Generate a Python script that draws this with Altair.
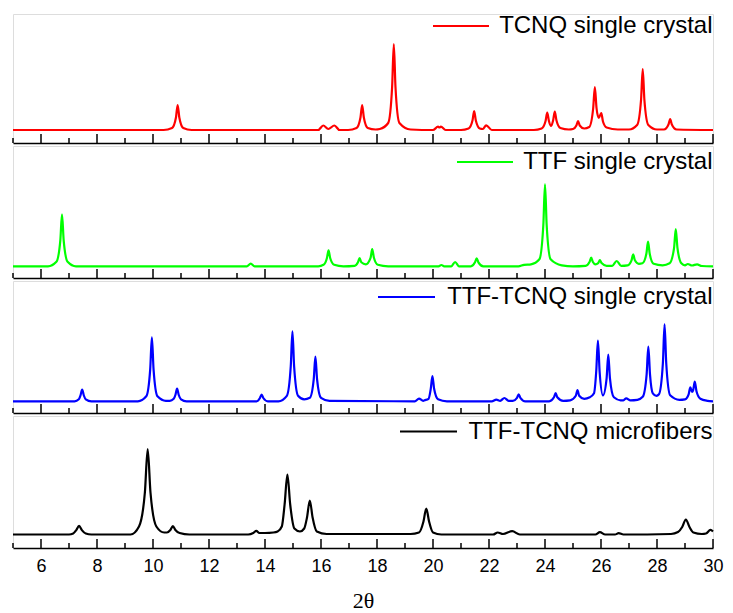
import altair as alt
import pandas as pd

# ---- data (2θ in degrees, intensity in arbitrary units) ----
series_names = ["TCNQ single crystal", "TTF single crystal",
                "TTF-TCNQ single crystal", "TTF-TCNQ microfibers"]
series_colors = ["#FF0000", "#00FF00", "#0000FF", "#000000"]

red_x = [5, 10.38, 10.68, 10.82, 10.88, 10.94, 11.08, 11.38,
         15.9, 16.08, 16.26, 16.48, 16.66,
         16.97, 17.27, 17.41, 17.47, 17.53, 17.67, 17.95,
         18.1, 18.4, 18.54, 18.6, 18.66, 18.8, 19.2,
         20.0, 20.18, 20.23, 20.28, 20.45,
         21.0, 21.27, 21.41, 21.47, 21.53, 21.67, 21.78, 21.9, 22.1,
         23.6, 23.88, 24.02, 24.08, 24.14, 24.22, 24.29, 24.35, 24.41, 24.55, 24.85,
         25.0, 25.12, 25.18, 25.24, 25.4,
         25.58, 25.72, 25.78, 25.84, 25.92, 26.01, 26.07, 26.2, 26.6,
         27.0, 27.29, 27.43, 27.49, 27.55, 27.69, 28.0,
         28.25, 28.41, 28.47, 28.53, 28.7, 30]
red_y = [0, 0, 2, 12.5, 25, 12.5, 2, 0,
         0, 4.5, 1, 4.5, 0,
         0, 2, 12.5, 25, 12.5, 2, 0.5,
         1, 7, 43, 86, 43, 7, 0.5,
         0, 3.3, 2.5, 3.3, 0,
         0, 1.5, 9.5, 19, 9.5, 1.5, 1, 4.7, 0,
         0, 1.5, 9, 17.5, 9, 4, 9.5, 18.5, 9.5, 2, 0.5,
         1, 4.5, 9, 4.5, 1.5,
         3, 21.5, 43, 22, 12, 17, 8.5, 2.5, 0.5,
         0.5, 5, 30, 61, 30, 5, 0.5,
         0.5, 5.5, 11, 5.5, 0.5, 0]

green_x = [5, 6.25, 6.55, 6.69, 6.75, 6.81, 6.95, 7.25,
           13.35, 13.49, 13.63,
           15.9, 16.09, 16.21, 16.27, 16.33, 16.47, 16.8,
           17.2, 17.32, 17.38, 17.44, 17.6, 17.77, 17.83, 17.89, 18.03, 18.4,
           20.2, 20.3, 20.4,
           20.65, 20.79, 20.93,
           21.35, 21.5, 21.56, 21.62, 21.8,
           23.05, 23.25, 23.5, 23.8, 23.94, 24.0, 24.06, 24.2, 24.6, 25.0,
           25.45, 25.59, 25.65, 25.71, 25.8, 25.9, 25.96, 26.02, 26.2,
           26.4, 26.56, 26.72,
           26.95, 27.09, 27.15, 27.21, 27.35, 27.48, 27.62, 27.68, 27.74, 27.88, 28.2,
           28.45, 28.61, 28.67, 28.73, 28.87, 29.0, 29.1, 29.25, 29.43, 29.6, 30]
green_y = [0, 0, 4.5, 26, 52, 26, 4.5, 0,
           0, 2.7, 0,
           0, 1.5, 8, 16, 8, 1.5, 0,
           0.5, 4, 8.3, 4, 2, 8.5, 17.3, 8.5, 1.5, 0,
           0, 1.3, 0,
           0, 4.3, 0,
           0, 4, 8, 4, 0,
           0, 1.5, 2, 7, 41, 82, 41, 7, 1, 0,
           0.5, 4.3, 8.7, 4.3, 2, 3.2, 6.3, 3.2, 0.5,
           0.5, 5.3, 0.5,
           1, 6, 12, 6, 2.5, 3, 12.5, 24.7, 12.5, 2.5, 1,
           3, 18.5, 37.3, 18.5, 3, 1, 2.3, 0.8, 2, 0.3, 0]

blue_x = [5, 7.2, 7.35, 7.41, 7.47, 7.53, 7.6, 7.8,
          9.46, 9.76, 9.9, 9.96, 10.02, 10.16, 10.46,
          10.6, 10.74, 10.8, 10.86, 10.92, 11.0, 11.2,
          13.7, 13.82, 13.88, 13.94, 14.1,
          14.48, 14.78, 14.92, 14.98, 15.04, 15.18, 15.4,
          15.6, 15.74, 15.8, 15.86, 16.0, 16.3,
          19.35, 19.5, 19.65,
          19.7, 19.84, 19.92, 19.98, 20.04, 20.18, 20.5,
          22.1, 22.26, 22.4, 22.55, 22.7,
          22.85, 23.0, 23.06, 23.12, 23.3,
          24.15, 24.32, 24.38, 24.44, 24.65,
          24.9, 25.1, 25.16, 25.22, 25.4,
          25.6, 25.75, 25.83, 25.89, 25.95, 26.07, 26.2, 26.26, 26.32, 26.46, 26.7,
          26.8, 26.9, 27.05,
          27.3, 27.49, 27.63, 27.69, 27.75, 27.85, 27.98,
          28.07, 28.21, 28.27, 28.33, 28.47, 28.8,
          29.0, 29.13, 29.19, 29.25, 29.29, 29.35, 29.41, 29.55, 29.8, 30]
blue_y = [0, 0, 2, 5.8, 11.7, 5.8, 2, 0,
          0, 5, 32, 64, 32, 5, 0.5,
          0.5, 2.5, 6.3, 12.7, 6.3, 2, 0,
          0, 3.3, 6.7, 3.3, 0,
          0, 5.5, 35, 70, 35, 5.5, 2,
          3.5, 22, 44.7, 22, 3.5, 0.5,
          0, 2.7, 0.5,
          1, 2.5, 12.5, 25.3, 12.5, 2, 0,
          0, 1.7, 0.5, 3.3, 0.5,
          0.5, 3.5, 7, 3.5, 0,
          0, 4, 8.3, 4, 0.5,
          1, 5.6, 11.3, 5.6, 2.5,
          4, 8, 30, 60.7, 30, 6, 23, 46.7, 23, 4, 1,
          1, 3, 1,
          1.5, 4.5, 27, 54.7, 27, 8, 5.5,
          7, 38, 77, 38, 6, 1.5,
          2, 7, 14, 9.5, 11, 19.7, 10, 2.5, 0.5, 0]

black_x = [5, 7.0, 7.15, 7.26, 7.36, 7.46, 7.6, 7.8,
           9.2, 9.5, 9.71, 9.81, 9.91, 10.12, 10.4,
           10.5, 10.62, 10.71, 10.8, 10.95, 11.3,
           13.4, 13.58, 13.69, 13.8, 14.0,
           14.3, 14.45, 14.6, 14.7, 14.8, 14.9, 15.05,
           15.25, 15.4, 15.5, 15.6, 15.7, 15.85, 16.2,
           19.2, 19.5, 19.66, 19.76, 19.86, 20.0, 20.3,
           22.15, 22.31, 22.5, 22.83, 23.1,
           25.8, 25.96, 26.15, 26.5, 26.63, 26.8,
           28.5, 28.75, 28.9, 29.03, 29.16, 29.3, 29.6,
           29.75, 29.91, 30]
black_y = [0, 0, 1, 4.4, 8.7, 4.4, 1, 0,
           0, 8, 42, 85.3, 42, 8, 2,
           2, 4.5, 8.3, 4.5, 1.5, 0,
           0, 1.5, 3.7, 1.5, 1.5,
           2, 3, 8, 30, 60, 30, 6,
           3, 6, 17, 34, 17, 3, 0.5,
           0.5, 2, 13, 26, 13, 2, 0,
           0, 2, 0.5, 3.3, 0,
           0, 2.3, 0, 0, 1.3, 0,
           0.5, 2.5, 7.5, 15, 7.5, 2, 0.5,
           1, 4.7, 3]

major_ticks = [6, 8, 10, 12, 14, 16, 18, 20, 22, 24, 26, 28, 30]
minor_ticks = [5, 7, 9, 11, 13, 15, 17, 19, 21, 23, 25, 27, 29]
x_title = "2θ"

# ---- layout (pixels) ----
W = 700
panel_heights = [129, 132, 132, 132]
baseline_offsets = [13, 11.7, 11.7, 13.5]
legend_ys = [12, 16, 16, 15.5]
legend_lines = [(420, 476), (444, 500), (365, 422), (387, 444)]
series_xy = [(red_x, red_y), (green_x, green_y), (blue_x, blue_y), (black_x, black_y)]


def make_panel(i, bottom):
    H = panel_heights[i]
    off = baseline_offsets[i]
    xs, ys = series_xy[i]
    xscale = alt.Scale(domain=[5, 30], nice=False, zero=False)
    if bottom:
        axis = alt.Axis(values=major_ticks, labelFontSize=18, labelFont="Liberation Sans",
                        labelColor="black", labelPadding=9, labelFlush=False,
                        labelOverlap=False, ticks=False, tickSize=0, grid=False,
                        domain=True, domainColor="black", domainWidth=1.7,
                        title=x_title, titleFont="Liberation Serif", titleFontSize=22,
                        titleFontWeight="normal", titleColor="black", titlePadding=15)
    else:
        axis = alt.Axis(labels=False, ticks=False, tickSize=0, grid=False, domain=True,
                        domainColor="black", domainWidth=1.7, title=None)
    xenc = alt.X("x:Q", scale=xscale, axis=axis)

    df = pd.DataFrame({"x": xs, "y": ys})
    line = alt.Chart(df).mark_line(color=series_colors[i], strokeWidth=2.2,
                                   interpolate="monotone").encode(
        x=xenc,
        y=alt.Y("y:Q", scale=alt.Scale(domain=[-off, H - off], nice=False, zero=False),
                axis=None),
    )
    majors = alt.Chart(pd.DataFrame({"x": major_ticks})).mark_rule(
        color="black", strokeWidth=1.5).encode(x=xenc, y=alt.value(H), y2=alt.value(H - 9))
    minors = alt.Chart(pd.DataFrame({"x": minor_ticks})).mark_rule(
        color="black", strokeWidth=1.5).encode(x=xenc, y=alt.value(H), y2=alt.value(H - 5))
    lab = pd.DataFrame({"s": [series_names[i]]})
    leg_line = alt.Chart(lab).mark_rule(color=series_colors[i], strokeWidth=2.2).encode(
        x=alt.value(legend_lines[i][0]), x2=alt.value(legend_lines[i][1]),
        y=alt.value(legend_ys[i]))
    leg_text = alt.Chart(lab).mark_text(align="right", baseline="middle", fontSize=24,
                                        font="Liberation Sans", color="black").encode(
        x=alt.value(699.5), y=alt.value(legend_ys[i]), text="s:N")
    return alt.layer(line, minors, majors, leg_line, leg_text).properties(width=W, height=H)


chart = alt.vconcat(*[make_panel(i, i == 3) for i in range(4)], spacing=0).properties(
    padding={"left": 0, "top": 5, "right": 0, "bottom": 0}
).configure_view(stroke=None).configure(background="white")

chart.save("out.html", embed_options={"renderer": "svg", "actions": False})
